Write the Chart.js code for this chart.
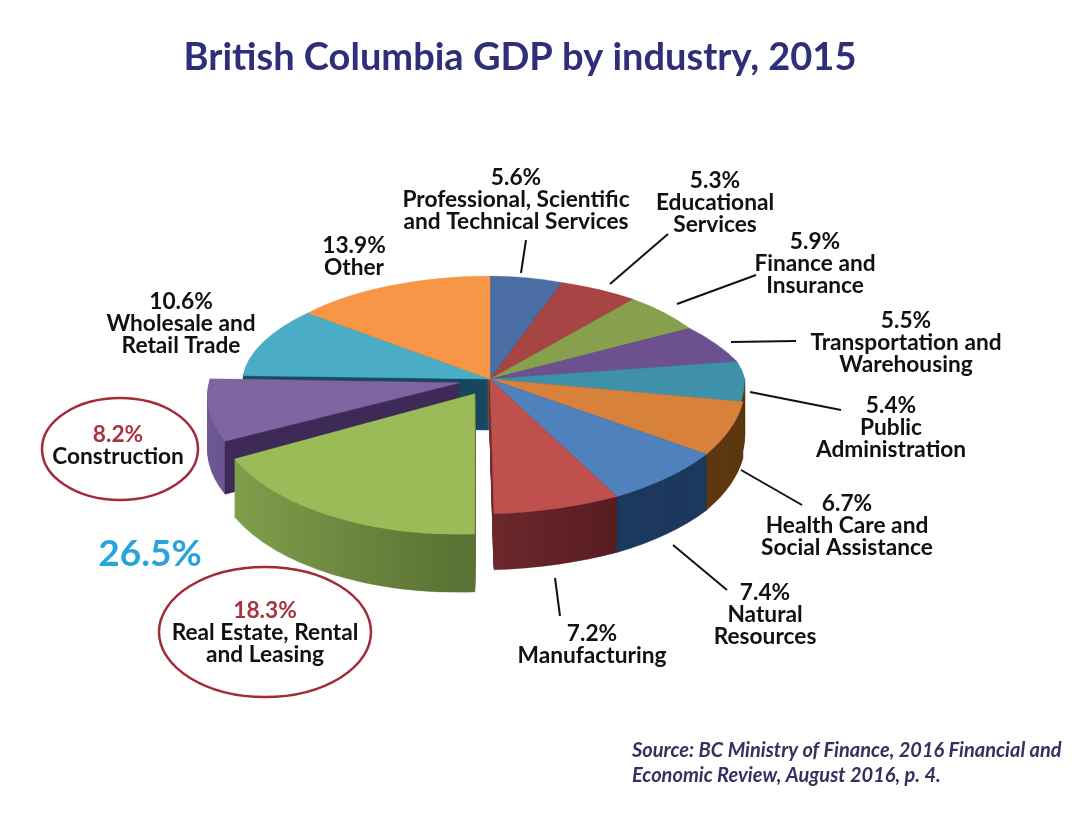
<!DOCTYPE html>
<html>
<head>
<meta charset="utf-8">
<title>British Columbia GDP by industry, 2015</title>
<script src="https://cdn.jsdelivr.net/npm/chart.js@4"></script>
<style>
  html, body { margin: 0; padding: 0; background: #fff; }
  canvas { display: block; }
</style>
</head>
<body>
<canvas id="chart" width="1088" height="836"></canvas>
<script>
var categories = [
  "Professional, Scientific and Technical Services", "Educational Services", "Finance and Insurance",
  "Transportation and Warehousing", "Public Administration", "Health Care and Social Assistance",
  "Natural Resources", "Manufacturing", "Real Estate, Rental and Leasing", "Construction",
  "Wholesale and Retail Trade", "Other"
];
var shares = [5.6, 5.3, 5.9, 5.5, 5.4, 6.7, 7.4, 7.2, 18.3, 8.2, 10.6, 13.9];
var labelLines = [
  ["Professional, Scientific", "and Technical Services"], ["Educational", "Services"], ["Finance and", "Insurance"],
  ["Transportation and", "Warehousing"], ["Public", "Administration"], ["Health Care and", "Social Assistance"],
  ["Natural", "Resources"], ["Manufacturing"], ["Real Estate, Rental", "and Leasing"], ["Construction"],
  ["Wholesale and", "Retail Trade"], ["Other"]
];
var titleText = "British Columbia GDP by industry, 2015";
var combinedShare = "26.5%";
var sourceLines = ["Source: BC Ministry of Finance, 2016 Financial and", "Economic Review, August 2016, p. 4."];

// styles
var topColors = ["#4a6ea4", "#a64543", "#87a04d", "#6d5090", "#3f90a9", "#d7813a", "#4f81bd", "#c0504d", "#9bbb59", "#8064a2", "#4bacc6", "#f79646"];
var sideColors = ["#2c4263", "#642a29", "#52612f", "#423157", "#5e3a12", "#5e3a12", "#1f3a5f", null, null, null, "#1b4a62", "#95591f"];
var labelColors = ["#111", "#111", "#111", "#111", "#111", "#111", "#111", "#111", "#a8323f", "#a8323f", "#111", "#111"];

// placing of the pieces (chart px / factors)
var explode = [0, 0, 0, 0, 0, 0, 0, 0, 32, 32, 0, 0];
var widen = [0.818, 0.947, 0.911, 1.02, 1, 1.003, 1.031, 1.107, 1.063, 1.015, 1.0015, 0.962];
var shear = [0, 0.047, 0.0187, 0.211, 0, 0.03, -0.0108, -0.054, -0.067, -0.11, -0.047, 0];
var shearUp = [0, 0.047, 0.0187, 0.211, 0.093, 0.03, -0.0108, -0.054, -0.067, -0.11, -0.047, 0];
var tall = [1, 1, 1, 1, 1, 1, 1, 1, 1.04, 0.93, 1, 1];
var depth = [40, 40, 40, 40, 56, 56, 56, 56, 58, 53, 51, 40];
// the four quarters round the centre are squashed differently
var quarters = [
  { sx: 0.97, sy: 0.404, left: true, up: true },
  { sx: 1, sy: 0.404, left: false, up: true },
  { sx: 0.97, sy: 0.53, left: true, up: false },
  { sx: 1, sy: 0.53, left: false, up: false }
];

// text anchors: centre x, y of first line
var labelAt = [[516, 178], [715, 181], [815, 242], [906, 321], [891, 406], [847, 504], [765, 593], [592, 634], [265, 611], [118, 435], [181, 302], [354, 246]];
var leaders = [
  [526, 240, 521, 273], [668, 234, 610, 284], [756, 275, 677, 304], [796, 341, 731, 342],
  [841, 410, 750, 392], [802, 505, 741, 470], [727, 590, 673, 545], [560, 616, 555, 578]
];
var rings = [[120, 449, 78, 51], [265, 632, 106, 65]];

function sideFill(ctx, i) {
  if (sideColors[i]) return sideColors[i];
  var g = ctx.createLinearGradient(235, 0, 745, 0);
  if (i == 7) {
    g.addColorStop(0.5, "#6e2a2d");
    g.addColorStop(0.75, "#571c20");
  } else if (i == 8) {
    g.addColorStop(0.05, "#80a04c");
    g.addColorStop(0.5, "#5a7233");
  } else {
    g.addColorStop(0, "#6f5a96");
    g.addColorStop(0.056, "#6a5491");
    g.addColorStop(0.057, "#3e2a57");
    g.addColorStop(1, "#3e2a57");
  }
  return g;
}

function eachQuarter(ctx, arc, i, drop, paint) {
  var t = explode[i];
  var mid = (arc.startAngle + arc.endAngle) / 2;
  quarters.forEach(function (q) {
    ctx.save();
    ctx.translate(0, drop);
    ctx.beginPath();
    ctx.rect(q.left ? 0 : arc.x - 0.5, q.up ? -100 : arc.y - 0.5, q.left ? arc.x + 0.5 : 1088, q.up ? arc.y + 100.5 : 900);
    ctx.clip();
    ctx.translate(arc.x, arc.y);
    ctx.scale(q.sx, q.sy);
    ctx.translate(Math.cos(mid) * t, Math.sin(mid) * t);
    ctx.transform(widen[i], 0, q.up ? shearUp[i] : shear[i], tall[i], 0, 0);
    ctx.translate(-arc.x, -arc.y);
    paint();
    ctx.restore();
  });
}

var pie3d = {
  id: "pie3d",
  beforeDatasetsDraw(chart) {
    var ctx = chart.ctx;
    var arcs = chart.getDatasetMeta(0).data;
    var core = [];
    for (var i = 0; i < arcs.length; i++) if (!explode[i]) core.push(i);
    // back to front: the pie, then the two pulled out pieces
    [core, [9], [8]].forEach(function (group) {
      var sides = group.map(function (n) {
        var fill = sideFill(ctx, n);
        return Object.assign({}, arcs[n].options, { backgroundColor: fill, borderColor: fill });
      });
      for (var k = 58; k >= 1; k--) {
        group.forEach(function (n, j) {
          if (k > depth[n]) return;
          var arc = arcs[n];
          eachQuarter(ctx, arc, n, k, function () {
            var keep = arc.options;
            arc.options = sides[j];
            arc.draw(ctx);
            arc.options = keep;
          });
        });
      }
      group.forEach(function (n) {
        eachQuarter(ctx, arcs[n], n, 0, function () {
          arcs[n].draw(ctx);
        });
      });
    });
    return false;
  },
  afterDraw(chart) {
    var ctx = chart.ctx;
    ctx.save();
    ctx.lineCap = "butt";
    ctx.strokeStyle = "#111";
    ctx.lineWidth = 2;
    leaders.forEach(function (l) {
      ctx.beginPath();
      ctx.moveTo(l[0], l[1]);
      ctx.lineTo(l[2], l[3]);
      ctx.stroke();
    });
    ctx.strokeStyle = "#a32a38";
    ctx.lineWidth = 2.5;
    rings.forEach(function (r) {
      ctx.beginPath();
      ctx.ellipse(r[0], r[1], r[2], r[3], 0, 0, Math.PI * 2);
      ctx.stroke();
    });

    ctx.textAlign = "center";
    ctx.textBaseline = "middle";
    ctx.font = "bold 22.7px Lato";
    shares.forEach(function (v, i) {
      var x = labelAt[i][0], y = labelAt[i][1];
      ctx.fillStyle = labelColors[i];
      ctx.fillText(v.toFixed(1) + "%", x, y);
      ctx.fillStyle = "#111";
      labelLines[i].forEach(function (line, n) {
        ctx.fillText(line, x, y + 21.7 * (n + 1));
      });
    });

    ctx.fillStyle = "#2f2e78";
    ctx.font = "bold 38px Lato";
    ctx.fillText(titleText, 520, 58);

    ctx.fillStyle = "#29a3dc";
    ctx.font = "bold 37px Lato";
    ctx.fillText(combinedShare, 150, 554);

    ctx.textAlign = "left";
    ctx.fillStyle = "#34315f";
    ctx.font = "italic bold 20px Lato";
    sourceLines.forEach(function (line, n) {
      ctx.fillText(line, 632, 751 + 25 * n);
    });
    ctx.restore();
  }
};

var chart = new Chart(document.getElementById("chart"), {
  type: "pie",
  data: {
    labels: categories,
    datasets: [{ data: shares, backgroundColor: topColors, borderColor: topColors, borderWidth: 0.5 }]
  },
  options: {
    responsive: false,
    animation: false,
    events: [],
    layout: { padding: { left: 235, right: 343, top: 124, bottom: 202 } },
    plugins: { legend: { display: false }, tooltip: { enabled: false } }
  },
  plugins: [pie3d]
});
</script>
</body>
</html>
